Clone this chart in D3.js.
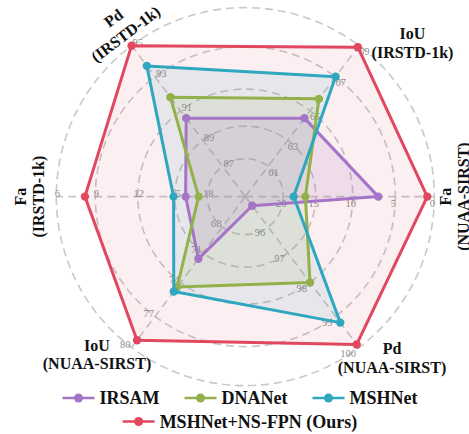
<!DOCTYPE html>
<html>
<head>
<meta charset="utf-8">
<script src="https://cdn.jsdelivr.net/npm/d3@7"></script>
<style>
  html, body { margin: 0; padding: 0; background: #fff; }
  svg { display: block; }
</style>
</head>
<body>
<svg id="chart" width="469" height="434"></svg>
<script>
// Axes, clockwise from the right-hand spoke
const axisTitles = [
  ["Fa", "(NUAA-SIRST)"],
  ["Pd", "(NUAA-SIRST)"],
  ["IoU", "(NUAA-SIRST)"],
  ["Fa", "(IRSTD-1k)"],
  ["Pd", "(IRSTD-1k)"],
  ["IoU", "(IRSTD-1k)"]
];

// Ring tick labels per axis, inner ring to outer ring
const ticksFaNUAA   = [20, 15, 10, 5, 0];
const ticksPdNUAA   = [96, 97, 98, 99, 100];
const ticksIoUNUAA  = [68, 71, 74, 77, 80];
const ticksFaIRSTD  = [18, 15, 12, 9, 6];
const ticksPdIRSTD  = [87, 89, 91, 93, 95];
const ticksIoUIRSTD = [61, 63, 65, 67, 69];

// Method scores, in axis order
const methods = ["IRSAM", "DNANet", "MSHNet", "MSHNet+NS-FPN (Ours)"];
const scoresIRSAM  = [7.0, 95.3, 71.6, 16.0, 90.5, 64.5];
const scoresDNANet = [16.6, 98.0, 74.4, 17.2, 91.8, 65.7];
const scoresMSHNet = [18.4, 99.2, 74.8, 14.9, 93.7, 67.0];
const scoresOurs   = [0.9, 99.9, 79.3, 8.2, 95.0, 68.9];

// ---- layout & style ----
const W = 469, H = 434;
const cx = 245.3, cy = 196.6;
const spokeAngles = [0, 53, 127, 180, 233, 307];   // degrees, screen coordinates
const colors = ["#a674c6", "#93b14b", "#2fa7bf", "#e1475e"];
const fillOpacity = [0.15, 0.11, 0.1, 0.085];

const svg = d3.select("#chart");

const tickSets = [ticksFaNUAA, ticksPdNUAA, ticksIoUNUAA, ticksFaIRSTD, ticksPdIRSTD, ticksIoUIRSTD];
const series = [scoresIRSAM, scoresDNANet, scoresMSHNet, scoresOurs];

// ring level (0 = centre, 1..5 = rings) -> radius in px
const ringRadius = d3.scaleLinear()
  .domain([0, 1, 2, 3, 4, 5])
  .range([0, 38, 70.5, 107.5, 150, 189]);

// value -> ring level, one scale per axis
const levelScales = tickSets.map(t => d3.scaleLinear().domain([t[0], t[4]]).range([1, 5]));

const rad = d => d * Math.PI / 180;
function pointAt(axis, value) {
  const r = ringRadius(levelScales[axis](value));
  const a = rad(spokeAngles[axis]);
  return [cx + r * Math.cos(a), cy + r * Math.sin(a)];
}

// ---- grid ----
const grid = svg.append("g")
  .attr("fill", "none")
  .attr("stroke", "#c8c8c8")
  .attr("stroke-width", 1.6)
  .attr("stroke-dasharray", "8,5");

grid.selectAll("circle")
  .data([1, 2, 3, 4, 5])
  .join("circle")
  .attr("cx", cx).attr("cy", cy)
  .attr("r", d => ringRadius(d));

grid.selectAll("line")
  .data(spokeAngles)
  .join("line")
  .attr("x1", cx).attr("y1", cy)
  .attr("x2", d => cx + ringRadius(5) * Math.cos(rad(d)))
  .attr("y2", d => cy + ringRadius(5) * Math.sin(rad(d)));

// ---- ring tick labels ----
const tickStyle = [
  { dx: -2, dy: 7,  anchor: "middle" },
  { dx: -3, dy: 6,  anchor: "end" },
  { dx: -1, dy: -3, anchor: "end" },
  { dx: 1,  dy: -3, anchor: "middle" },
  { dx: 1,  dy: -3, anchor: "start" },
  { dx: 0,  dy: 6,  anchor: "start" }
];
const tickG = svg.append("g")
  .attr("font-family", "'Liberation Serif', 'Times New Roman', serif")
  .attr("font-size", 10.5)
  .attr("fill", "#8e8e8e");
tickSets.forEach((ticks, i) => {
  ticks.forEach(t => {
    const [x, y] = pointAt(i, t);
    tickG.append("text")
      .attr("x", x + tickStyle[i].dx)
      .attr("y", y + tickStyle[i].dy)
      .attr("text-anchor", tickStyle[i].anchor)
      .attr("dominant-baseline", "central")
      .text(t);
  });
});

// ---- series ----
const line = d3.line().curve(d3.curveLinearClosed);
const polys = series.map(vals => vals.map((v, i) => pointAt(i, v)));

// fills: biggest first so smaller areas stay visible
const fillG = svg.append("g");
[3, 2, 1, 0].forEach(k => {
  fillG.append("path")
    .attr("d", line(polys[k]))
    .attr("fill", colors[k])
    .attr("fill-opacity", fillOpacity[k])
    .attr("stroke", "none");
});

const lineG = svg.append("g");
polys.forEach((pts, k) => {
  const g = lineG.append("g");
  g.append("path")
    .attr("d", line(pts))
    .attr("fill", "none")
    .attr("stroke", colors[k])
    .attr("stroke-width", 3)
    .attr("stroke-linejoin", "round");
  g.selectAll("circle")
    .data(pts)
    .join("circle")
    .attr("cx", d => d[0]).attr("cy", d => d[1])
    .attr("r", 4.2)
    .attr("fill", colors[k]);
});

// ---- axis titles ----
const titleLayout = [
  { dx: 208.7, dy: 0,      rot: -90, gap: 18 },
  { dx: 146.7, dy: 161,    rot: 0,   gap: 19 },
  { dx: -148.3, dy: 157.5, rot: 0,   gap: 18 },
  { dx: -216.3, dy: 0,     rot: -90, gap: 18 },
  { dx: -125.8, dy: -170.6, rot: -37, gap: 20 },
  { dx: 167.2, dy: -154,   rot: 0,   gap: 19 }
];
const titleG = svg.append("g")
  .attr("font-family", "'Liberation Serif', 'Times New Roman', serif")
  .attr("font-weight", "bold")
  .attr("font-size", 16)
  .attr("fill", "#111");
axisTitles.forEach((lines, i) => {
  const L = titleLayout[i];
  const g = titleG.append("g")
    .attr("transform", `translate(${cx + L.dx},${cy + L.dy}) rotate(${L.rot})`);
  lines.forEach((s, j) => {
    g.append("text")
      .attr("x", 0)
      .attr("y", (j - 0.5) * L.gap)
      .attr("text-anchor", "middle")
      .attr("dominant-baseline", "central")
      .text(s);
  });
});

// ---- legend ----
const legendRows = [[0, 1, 2], [3]];
const rowY = [398, 421.5];
const legendG = svg.append("g")
  .attr("font-family", "'Liberation Serif', 'Times New Roman', serif")
  .attr("font-weight", "bold")
  .attr("font-size", 18)
  .attr("fill", "#111");
const swatch = 32, textGap = 5, itemGap = 25, rowCenter = 240;
legendRows.forEach((row, r) => {
  const rowG = legendG.append("g");
  let x = 0;
  row.forEach(k => {
    const item = rowG.append("g").attr("transform", `translate(${x},${rowY[r]})`);
    item.append("line")
      .attr("x1", 0).attr("x2", swatch)
      .attr("y1", 0).attr("y2", 0)
      .attr("stroke", colors[k]).attr("stroke-width", 2.5);
    item.append("circle")
      .attr("cx", swatch / 2).attr("cy", 0).attr("r", 4.5)
      .attr("fill", colors[k]);
    const t = item.append("text")
      .attr("x", swatch + textGap).attr("y", 0)
      .attr("dominant-baseline", "central")
      .text(methods[k]);
    x += swatch + textGap + t.node().getComputedTextLength() + itemGap;
  });
  const width = x - itemGap;
  rowG.attr("transform", `translate(${rowCenter - width / 2},0)`);
});
</script>
</body>
</html>
